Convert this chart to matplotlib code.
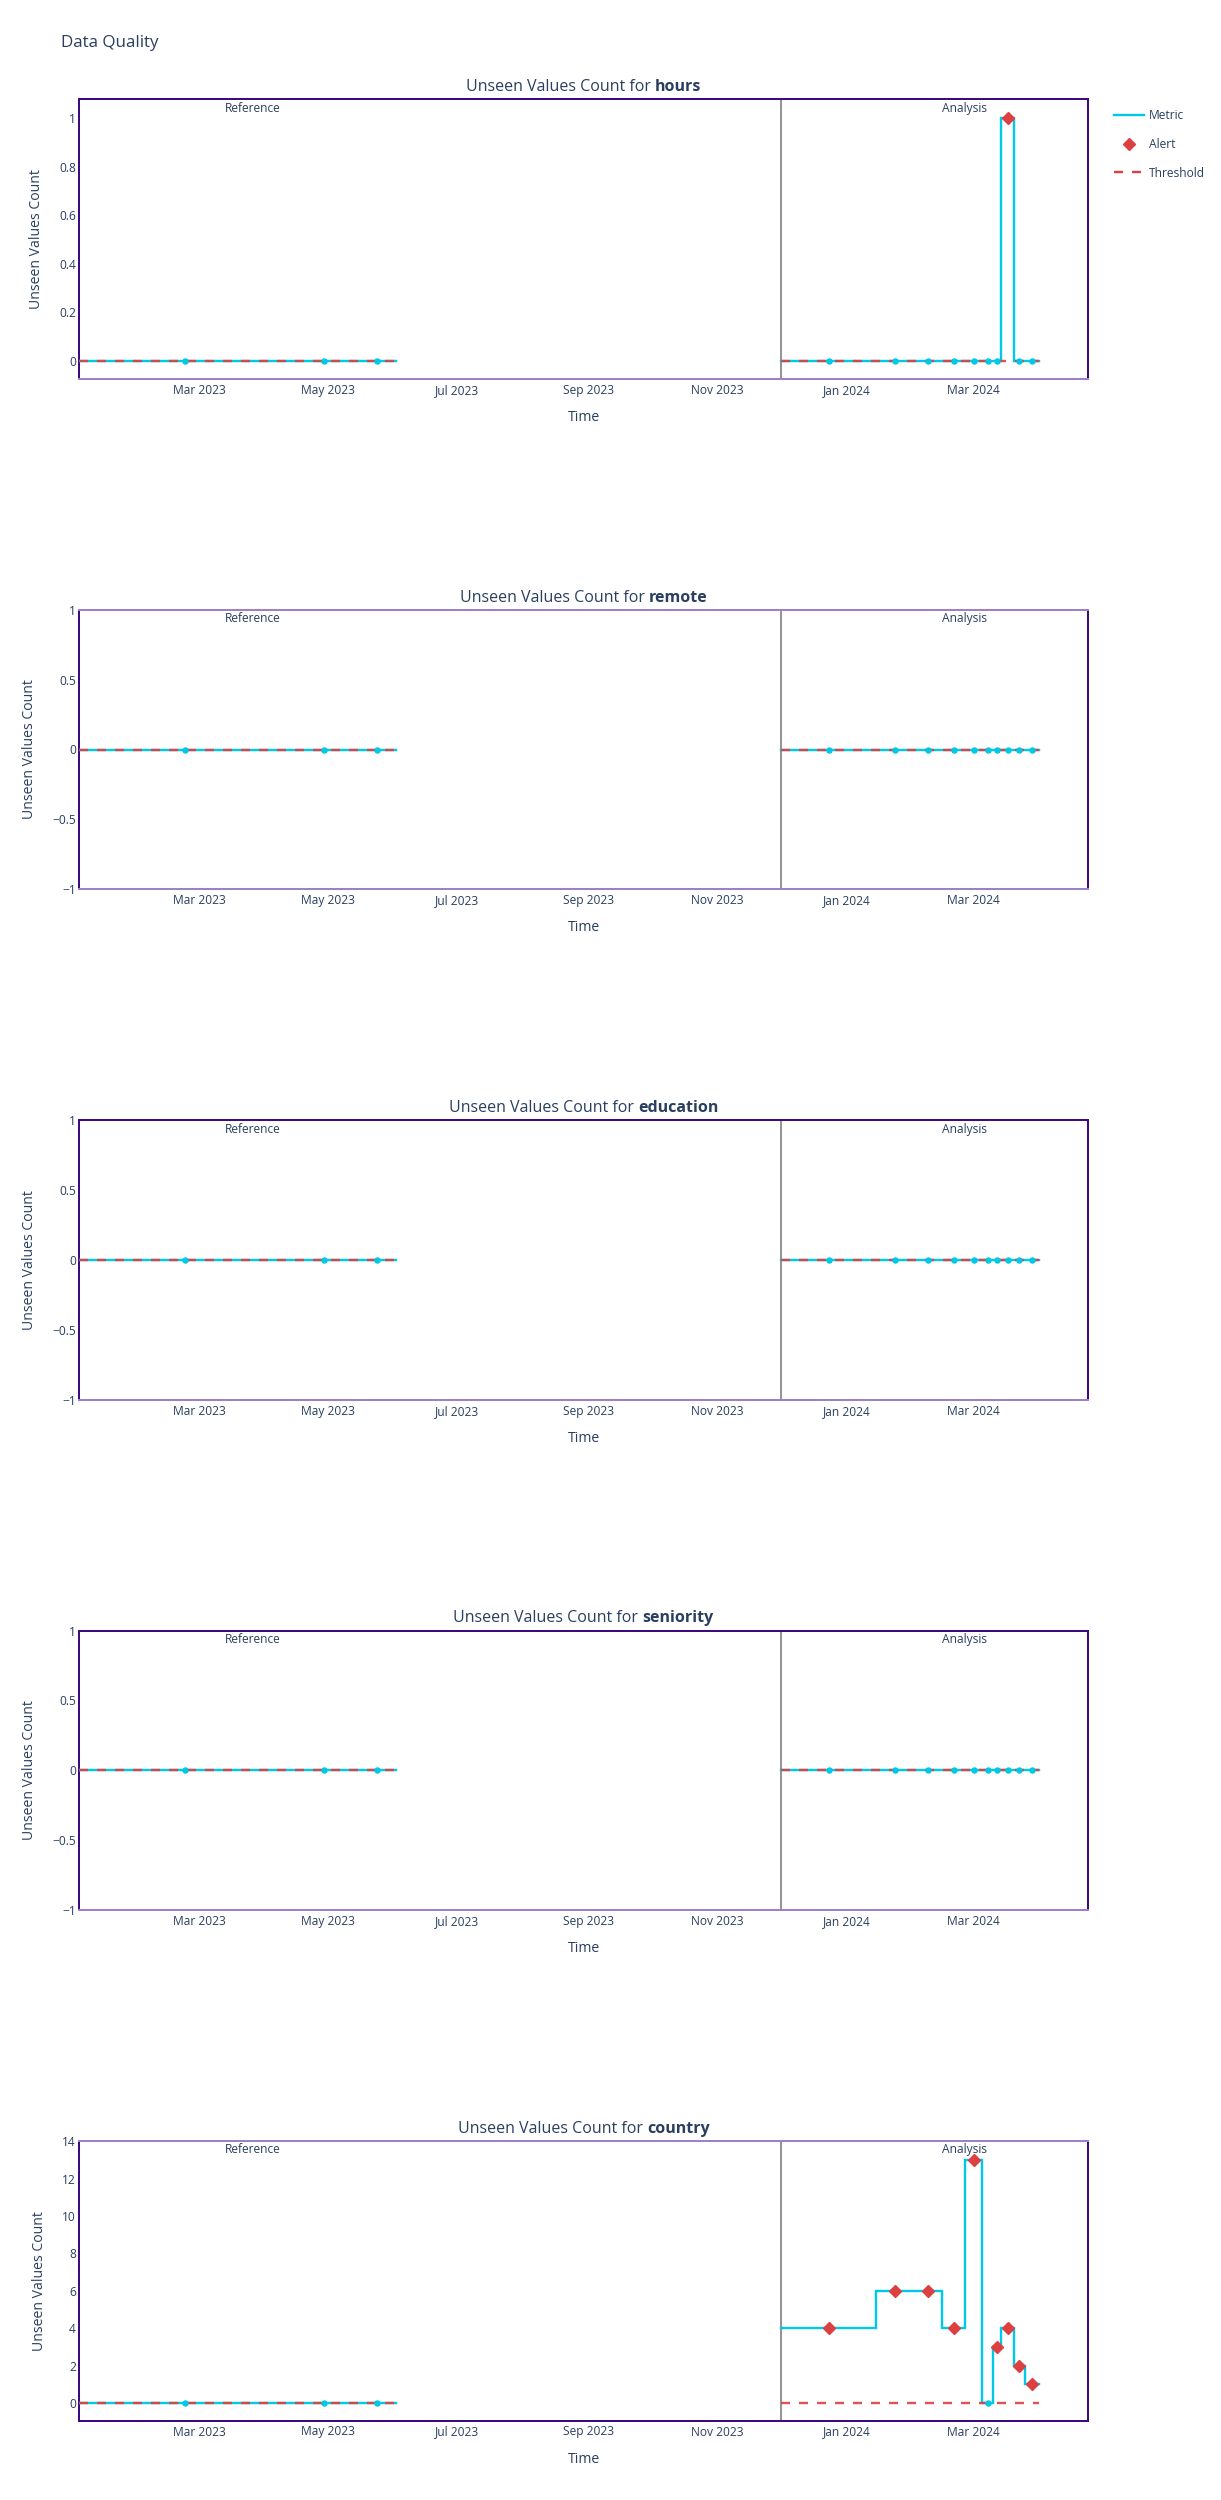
import matplotlib
matplotlib.use("Agg")
import matplotlib.pyplot as plt
import matplotlib.dates as mdates
import matplotlib.ticker as mticker
from matplotlib.offsetbox import TextArea, HPacker, AnchoredOffsetbox
from matplotlib.lines import Line2D
import numpy as np
import pandas as pd

plt.rcParams['font.family'] = ['Open Sans', 'DejaVu Sans']

# ---------------- data ----------------
ref_chunk_starts = ['2023-01-03', '2023-04-13', '2023-05-15']
ref_chunk_end = '2023-06-02'
ana_chunk_starts = ['2023-12-01', '2024-01-15', '2024-02-02', '2024-02-15', '2024-02-26',
                    '2024-03-05', '2024-03-10', '2024-03-14', '2024-03-20', '2024-03-25']
ana_chunk_end = '2024-04-01'

features = ['hours', 'remote', 'education', 'seniority', 'country']
ref_values = {
    'hours': [0, 0, 0],
    'remote': [0, 0, 0],
    'education': [0, 0, 0],
    'seniority': [0, 0, 0],
    'country': [0, 0, 0],
}
ana_values = {
    'hours': [0, 0, 0, 0, 0, 0, 0, 1, 0, 0],
    'remote': [0, 0, 0, 0, 0, 0, 0, 0, 0, 0],
    'education': [0, 0, 0, 0, 0, 0, 0, 0, 0, 0],
    'seniority': [0, 0, 0, 0, 0, 0, 0, 0, 0, 0],
    'country': [4, 6, 6, 4, 13, 0, 3, 4, 2, 1],
}
ref_threshold = [0, 0, 0]
ana_threshold = [0, 0, 0, 0, 0, 0, 0, 0, 0, 0]

y_ranges = {
    'hours': (-0.074, 1.078),
    'remote': (-1, 1),
    'education': (-1, 1),
    'seniority': (-1, 1),
    'country': (-0.93, 14.02),
}
y_ticks = {
    'hours': [0, 0.2, 0.4, 0.6, 0.8, 1],
    'remote': [-1, -0.5, 0, 0.5, 1],
    'education': [-1, -0.5, 0, 0.5, 1],
    'seniority': [-1, -0.5, 0, 0.5, 1],
    'country': [0, 2, 4, 6, 8, 10, 12, 14],
}
x_range = ('2023-01-03 05:00', '2024-04-24')
ref_label_x = '2023-03-26'
ana_label_x = '2024-02-25 16:00'

# ---------------- style ----------------
TEXT = '#2a3f5f'
METRIC = '#00c8e5'
ALERT = '#dd4040'
FRAME_DARK = '#3d0a82'
FRAME_LIGHT = '#9d80c8'
SEP = '#7a7a7a'

W, H = 1221, 2500
fig = plt.figure(figsize=(W / 100, H / 100), dpi=100)

left_px, right_px = 79.3, 1088.0
top0, step, ph = 99.3, 510.4, 279.6

px = 72 / 100  # points per pixel

fig.text(61 / W, 1 - 43 / H, 'Data Quality', fontsize=17 * px, color=TEXT,
         va='center', ha='left')

def fmt(v, pos=None):
    s = '{:g}'.format(v)
    return s.replace('-', '\u2212')

frame_tb = [
    ('dark', 'light'),
    ('light', 'light'),
    ('dark', 'light'),
    ('dark', 'light'),
    ('light', 'dark'),
]

for i, feat in enumerate(features):
    top = top0 + step * i
    ax = fig.add_axes([left_px / W, 1 - (top + ph) / H, (right_px - left_px) / W, ph / H])

    rs = pd.to_datetime(ref_chunk_starts)
    re_ = pd.to_datetime(ref_chunk_end)
    as_ = pd.to_datetime(ana_chunk_starts)
    ae = pd.to_datetime(ana_chunk_end)

    for starts, end, vals, thr in [(rs, re_, ref_values[feat], ref_threshold),
                                   (as_, ae, ana_values[feat], ana_threshold)]:
        edges = list(starts) + [end]
        v = list(vals) + [vals[-1]]
        t = list(thr) + [thr[-1]]
        ax.step(edges, v, where='post', color=METRIC, lw=2.4 * px, zorder=3,
                solid_joinstyle='miter')
        ax.step(edges, t, where='post', color=ALERT, lw=2.4 * px, zorder=4,
                dashes=(3.75, 3.75), alpha=0.9)
        ends = list(starts[1:]) + [end]
        mids = [s + (e - s) / 2 for s, e in zip(starts, ends)]
        vals_a = np.array(vals)
        thr_a = np.array(thr)
        alert = vals_a > thr_a
        mids_a = np.array(mids, dtype='datetime64[ns]')
        ax.plot(mids_a[~alert], vals_a[~alert], 'o', color=METRIC, ms=3.6,
                mec=METRIC, zorder=5, lw=0)
        if alert.any():
            ax.plot(mids_a[alert], vals_a[alert], 'D', color=ALERT, ms=6.0,
                    mec=ALERT, zorder=6, lw=0)

    ax.axvline(as_[0], color=SEP, lw=1.6 * px, zorder=2)

    ax.set_xlim(pd.to_datetime(x_range[0]), pd.to_datetime(x_range[1]))
    ax.set_ylim(*y_ranges[feat])
    ax.set_yticks(y_ticks[feat])
    ax.yaxis.set_major_formatter(mticker.FuncFormatter(fmt))
    ax.xaxis.set_major_locator(mdates.MonthLocator(bymonth=[1, 3, 5, 7, 9, 11]))
    ax.xaxis.set_major_formatter(mdates.DateFormatter('%b %Y'))
    ax.tick_params(axis='both', length=0, labelsize=12 * px, labelcolor=TEXT)
    ax.tick_params(axis='x', pad=3.6)
    ax.tick_params(axis='y', pad=2.5)

    for side in ['left', 'right']:
        ax.spines[side].set_color(FRAME_DARK)
        ax.spines[side].set_linewidth(2 * px)
    tb = frame_tb[i]
    ax.spines['top'].set_color(FRAME_DARK if tb[0] == 'dark' else FRAME_LIGHT)
    ax.spines['bottom'].set_color(FRAME_DARK if tb[1] == 'dark' else FRAME_LIGHT)
    ax.spines['top'].set_linewidth(2 * px)
    ax.spines['bottom'].set_linewidth(2 * px)

    ax.set_xlabel('Time', fontsize=14 * px, color=TEXT, labelpad=9.5)
    ax.set_ylabel('Unseen Values Count', fontsize=14 * px, color=TEXT, labelpad=10.5)

    trans = ax.get_xaxis_transform()
    ax.text(pd.to_datetime(ref_label_x), 1 - 2.5 / ph, 'Reference', transform=trans,
            ha='center', va='top', fontsize=12 * px, color=TEXT)
    ax.text(pd.to_datetime(ana_label_x), 1 - 2.5 / ph, 'Analysis', transform=trans,
            ha='center', va='top', fontsize=12 * px, color=TEXT)

    box = HPacker(children=[
        TextArea('Unseen Values Count for', textprops=dict(fontsize=16 * px, color=TEXT)),
        TextArea(feat, textprops=dict(fontsize=16 * px, color=TEXT, fontweight='bold')),
    ], align='baseline', pad=0, sep=3.2)
    anch = AnchoredOffsetbox(loc='lower center', child=box, pad=0, frameon=False,
                             bbox_to_anchor=(0.5, 1 + 4 / ph), bbox_transform=ax.transAxes,
                             borderpad=0)
    ax.add_artist(anch)

    if i == 0:
        handles = [
            Line2D([], [], color=METRIC, lw=2.4 * px),
            Line2D([], [], color=ALERT, marker='D', ms=6.0, lw=0),
            Line2D([], [], color=ALERT, lw=2.4 * px, dashes=(3.75, 3.75)),
        ]
        fig.legend(handles, ['Metric', 'Alert', 'Threshold'], loc='upper left',
                   bbox_to_anchor=(1114 / W, 1 - 109 / H), frameon=False,
                   fontsize=12 * px, labelcolor=TEXT, handlelength=2.5,
                   handletextpad=0.42, labelspacing=1.32, borderpad=0, borderaxespad=0)

fig.savefig('out.png', dpi=100, facecolor='white')
